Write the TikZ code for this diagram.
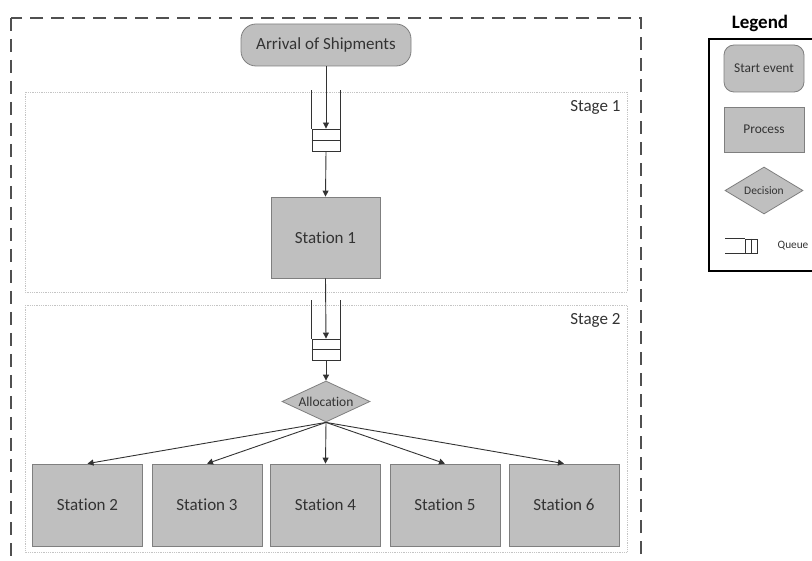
\documentclass[tikz,border=0pt]{standalone}
\usepackage{fontspec}
\setmainfont[Ligatures=NoCommon]{Carlito}
\usetikzlibrary{shapes.geometric,arrows.meta}
\definecolor{boxfill}{HTML}{BFBFBF}
\definecolor{boxline}{HTML}{7F7F7F}
\definecolor{inkgrey}{HTML}{333333}
\definecolor{stageline}{HTML}{C4C4C4}
\definecolor{outerline}{HTML}{505050}
\begin{document}
\begin{tikzpicture}[x=1pt,y=-1pt,
  every node/.style={text=inkgrey},
  bigfont/.style={font=\fontsize{17}{20}\selectfont},
  startbox/.style={draw=boxline, fill=boxfill, line width=0.8pt, rounded corners=15pt,
    minimum width=170pt, minimum height=42pt, inner sep=0pt, bigfont},
  procbox/.style={draw=boxline, fill=boxfill, line width=0.8pt,
    minimum width=110pt, minimum height=82pt, inner sep=0pt, bigfont},
  decbox/.style={diamond, draw=boxline, fill=boxfill, line width=0.8pt, aspect=2.15,
    minimum width=88pt, minimum height=41pt, inner sep=0pt},
  queuebox/.style={draw=inkgrey, line width=0.9pt, minimum width=28pt, minimum height=22pt, inner sep=0pt},
  queueline/.style={draw=inkgrey, line width=0.9pt},
  flow/.style={draw=inkgrey, line width=0.9pt, -{Triangle[length=6pt,width=6pt]}},
  stagebox/.style={draw=stageline, line width=0.8pt, densely dotted},
  stagelabel/.style={anchor=east, bigfont}
]
\useasboundingbox (0,0) rectangle (812,561);
\clip (0,0) rectangle (812,561);

% outer dashed frame (continues below the page)
\draw[outerline, line width=1.2pt, dash pattern=on 13pt off 8pt] (11,18) rectangle (641,580);

% stage frames
\draw[stagebox] (25,92) rectangle (627,292);
\node[stagelabel] (stage1) at (624,107) {Stage 1};
\draw[stagebox] (25,305) rectangle (627,552);
\node[stagelabel] (stage2) at (624,320) {Stage 2};

% start event
\node[startbox] (arrival) at (326,45) {Arrival of Shipments};

% first queue
\node[queuebox] (q1) at (326,140) {};
\draw[queueline] (q1.west) -- (q1.east);
\draw[queueline] (q1.north west) -- ++(0,-39);
\draw[queueline] (q1.north east) -- ++(0,-39);

% station 1
\node[procbox, minimum width=109pt, minimum height=81pt] (st1) at (325.5,237.5) {Station 1};

% second queue
\node[queuebox, minimum height=21pt] (q2) at (326,349.5) {};
\draw[queueline] (q2.west) -- (q2.east);
\draw[queueline] (q2.north west) -- ++(0,-39);
\draw[queueline] (q2.north east) -- ++(0,-39);

% allocation decision
\node[decbox, font=\fontsize{13.5}{16}\selectfont] (alloc) at (326,401.5) {Allocation};

% parallel stations
\node[procbox] (st2) at (87.5,505) {Station 2};
\node[procbox] (st3) at (207,505) {Station 3};
\node[procbox] (st4) at (325.5,505) {Station 4};
\node[procbox] (st5) at (445,505) {Station 5};
\node[procbox] (st6) at (564,505) {Station 6};

% flow
\draw[flow] (arrival.south) -- (q1.north);
\draw[flow] (q1.south) -- (st1.north);
\draw[flow] (st1.south) -- (q2.north);
\draw[flow] (q2.south) -- (alloc.north);
\foreach \s in {st2,st3,st4,st5,st6}
  \draw[flow] (alloc.south) -- (\s.north);

% legend
\node[font=\fontsize{19}{22}\selectfont\bfseries, text=black] (legtitle) at (760,23) {Legend};
\draw[black, line width=1.2pt] (709,39) rectangle (830,271);
\node[draw=boxline, fill=boxfill, line width=0.8pt, rounded corners=10pt,
  minimum width=80pt, minimum height=47pt, inner sep=0pt,
  font=\fontsize{13.4}{16}\selectfont] (legstart) at (764,68.5) {Start event};
\node[draw=boxline, fill=boxfill, line width=0.8pt,
  minimum width=80pt, minimum height=45pt, inner sep=0pt,
  font=\fontsize{13.4}{16}\selectfont] (legproc) at (764,129.5) {Process};
\node[decbox, minimum width=78pt, minimum height=47pt, aspect=1.66,
  font=\fontsize{11.5}{14}\selectfont] (legdec) at (764,190.5) {Decision};
\node[draw=inkgrey, line width=0.9pt, minimum width=12pt, minimum height=14pt, inner sep=0pt] (legq) at (751,246) {};
\draw[queueline] (legq.north) -- (legq.south);
\draw[queueline] (legq.north west) -- ++(-20,0);
\draw[queueline] (legq.south west) -- ++(-20,0);
\node[font=\fontsize{11.3}{14}\selectfont] (legqtext) at (793,246) {Queue};
\end{tikzpicture}
\end{document}
